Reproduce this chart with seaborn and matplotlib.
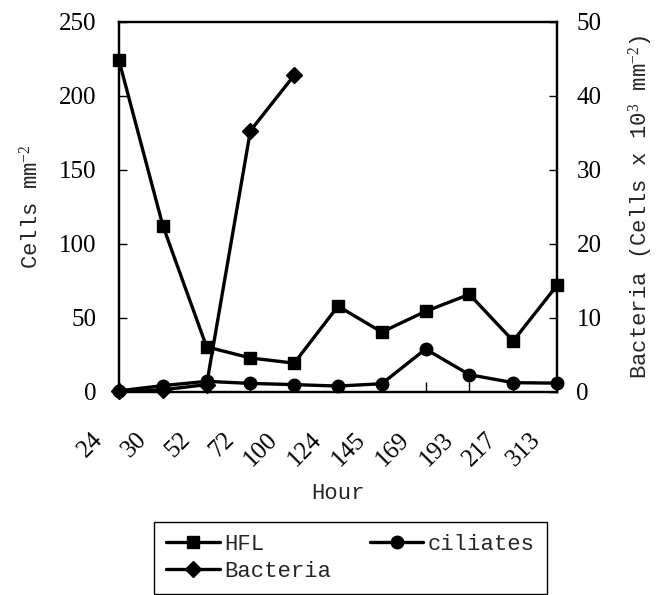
import matplotlib
matplotlib.use("Agg")
import matplotlib.pyplot as plt
import matplotlib.transforms as mtransforms
import seaborn as sns
import pandas as pd

# ---- data ----
hours = ["24", "30", "52", "72", "100", "124", "145", "169", "193", "217", "313"]
hfl = [224, 112.5, 30.5, 23, 19.5, 58, 40.5, 54.5, 66, 34.5, 72]
ciliates = [0.8, 4.3, 7.2, 5.8, 5.0, 4.0, 5.6, 29.0, 11.7, 6.3, 6.0]
bacteria = [0.1, 0.3, 1.0, 35.3, 42.8]          # right axis, x10^3 cells mm^-2
left_ticks = [0, 50, 100, 150, 200, 250]
right_ticks = [0, 10, 20, 30, 40, 50]

sns.set_style("white")
plt.rcParams['font.family'] = ['Liberation Serif', 'DejaVu Serif']
plt.rcParams['mathtext.fontset'] = 'custom'
plt.rcParams['mathtext.rm'] = 'Liberation Serif'
plt.rcParams['mathtext.it'] = 'Liberation Serif'

MONO = 'Liberation Mono'

fig = plt.figure(figsize=(6.7, 5.95), dpi=100)
ax = fig.add_axes([119 / 670, 1 - 392 / 595, 438 / 670, 370 / 595])
ax2 = ax.twinx()

df = pd.DataFrame({"pos": list(range(len(hours))), "HFL": hfl, "ciliates": ciliates})
dfb = pd.DataFrame({"pos": list(range(len(bacteria))), "Bacteria": bacteria})

common = dict(color="black", linewidth=2.4, markeredgecolor="black",
              markeredgewidth=1, clip_on=False, legend=False)
sns.lineplot(data=df, x="pos", y="HFL", ax=ax, marker="s", markersize=9,
             label="HFL", **common)
sns.lineplot(data=df, x="pos", y="ciliates", ax=ax, marker="o", markersize=9,
             label="ciliates", **common)
sns.lineplot(data=dfb, x="pos", y="Bacteria", ax=ax2, marker="D", markersize=8,
             label="Bacteria", **common)

ax.set_xlim(0, len(hours) - 1)
ax.set_ylim(0, 250)
ax2.set_ylim(0, 50)
ax.set_yticks(left_ticks)
ax2.set_yticks(right_ticks)
ax.set_xticks(list(range(len(hours))))

for a in (ax, ax2):
    for s in a.spines.values():
        s.set_color("black")
        s.set_linewidth(1.6)
        s.set_visible(True)

ax.tick_params(axis="y", direction="in", length=6, width=1, pad=16,
               labelsize=18, left=True, colors="black")
ax.tick_params(axis="x", direction="in", length=7, width=1, pad=22,
               labelsize=18, bottom=True, colors="black")
ax2.tick_params(axis="y", direction="in", length=6, width=1, pad=14,
                labelsize=18, right=True, colors="black")

ax.set_xticklabels(hours, rotation=45, ha="right", va="top")
for lab in ax.get_xticklabels():
    lab.set_transform(lab.get_transform() +
                      mtransforms.ScaledTranslation(-0.12, -0.06, fig.dpi_scale_trans))

ax.set_xlabel("Hour", fontfamily=MONO, fontsize=16)
ax.xaxis.set_label_coords(0.5, -0.245)
ax.set_ylabel("Cells mm$^{-2}$", fontfamily=MONO, fontsize=16)
ax.yaxis.set_label_coords(-0.175, 0.5)
ax2.set_ylabel("Bacteria (Cells x 10$^{3}$ mm$^{-2}$)", fontfamily=MONO, fontsize=16)
ax2.yaxis.set_label_coords(1.16, 0.5)

h_hfl, h_cil = ax.get_lines()[0], ax.get_lines()[1]
h_bac = ax2.get_lines()[0]
leg = fig.legend(handles=[h_hfl, h_bac, h_cil], labels=["HFL", "Bacteria", "ciliates"],
                 ncol=2, loc="upper left", mode="expand",
                 bbox_to_anchor=(154 / 670, 0.0, 393 / 670, 1 - 522 / 595),
                 prop={"family": MONO, "size": 16}, frameon=True, fancybox=False,
                 edgecolor="black", framealpha=1, handlelength=2.4,
                 handletextpad=0.2, labelspacing=0.25, borderpad=0.55,
                 columnspacing=1.0, borderaxespad=0)
leg.get_frame().set_linewidth(1.0)

fig.savefig("out.png", dpi=100, facecolor="white")
